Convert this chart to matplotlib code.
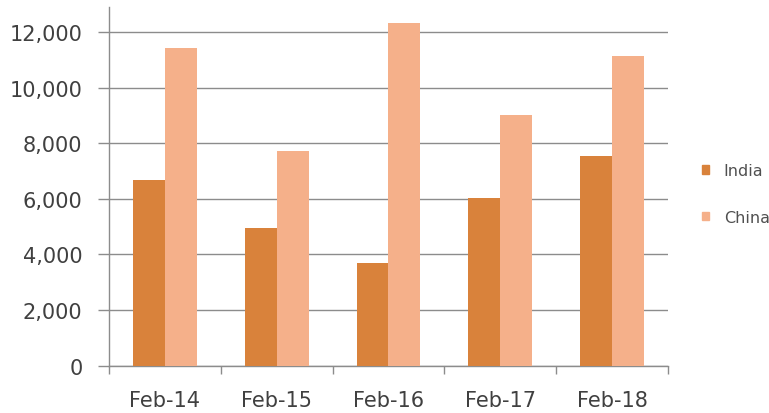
import numpy as np
import matplotlib.pyplot as plt
from matplotlib.patches import Patch

plt.rcParams['font.family'] = ['DejaVu Sans']

# Data
months = ['Feb-14', 'Feb-15', 'Feb-16', 'Feb-17', 'Feb-18']
india = [6680, 4950, 3690, 6020, 7530]
china = [11420, 7710, 12330, 9030, 11130]

india_color = '#D9823B'
china_color = '#F5B08A'
grid_color = '#8C8C8C'
text_color = '#404040'

fig = plt.figure(figsize = (7.69, 4.14), dpi = 100)
ax = fig.add_axes([0.1417, 0.1143, 0.8687 - 0.1417, 0.9807 - 0.1143])

x = np.arange(len(months))
w = 0.286

ax.bar(x - w / 2, india, width = w, color = india_color, zorder = 3)
ax.bar(x + w / 2, china, width = w, color = china_color, zorder = 3)

ax.set_xlim(-0.5, len(months) - 0.5)
ax.set_ylim(0, 12900)

yticks = np.arange(0, 12001, 2000)
ax.set_yticks(yticks)
ax.set_yticklabels([f'{v:,}' for v in yticks])
ax.yaxis.grid(True, color = grid_color, linewidth = 1.0, zorder = 0)

# boundaries carry the tick marks, centres carry the labels
ax.set_xticks(np.arange(len(months) + 1) - 0.5)
ax.set_xticklabels([])
ax.set_xticks(x, minor = True)
ax.set_xticklabels(months, minor = True)

ax.tick_params(axis = 'y', length = 8, width = 1, color = grid_color,
               labelsize = 15, labelcolor = text_color, pad = 11)
ax.tick_params(axis = 'x', which = 'major', length = 6, width = 1, color = grid_color)
ax.tick_params(axis = 'x', which = 'minor', length = 0,
               labelsize = 15, labelcolor = text_color, pad = 17.5)

for side in ['top', 'right']:
	ax.spines[side].set_visible(False)
for side in ['left', 'bottom']:
	ax.spines[side].set_color(grid_color)
	ax.spines[side].set_linewidth(1.0)

handles = [Patch(color = india_color, label = 'India'),
           Patch(color = china_color, label = 'China')]
fig.legend(handles = handles, loc = 'upper left', bbox_to_anchor = (0.913, 0.604),
           frameon = False, fontsize = 11.5, handlelength = 0.45, handleheight = 0.45,
           handletextpad = 0.9, labelspacing = 2.0, labelcolor = '#505050',
           borderaxespad = 0, borderpad = 0)

fig.savefig('out.png', dpi = 100)
